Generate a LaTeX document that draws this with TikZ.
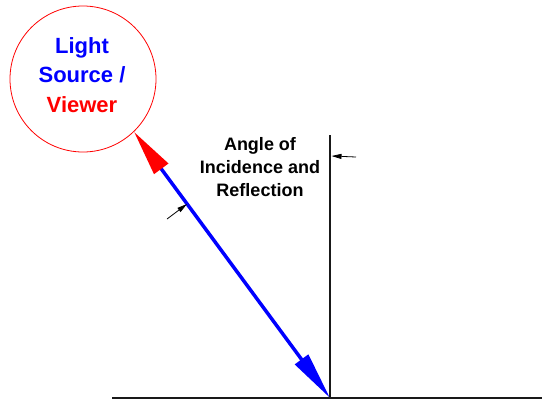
\documentclass[tikz,border=0pt]{standalone}
\usepackage{fontspec}
\setmainfont{Liberation Sans}
\usetikzlibrary{arrows.meta,positioning}
\definecolor{rayblue}{RGB}{0,0,255}
\definecolor{viewred}{RGB}{255,0,0}

\begin{document}
\begin{tikzpicture}[x=1pt,y=-1pt,>=Latex,
 sourcetext/.style={font=\bfseries\fontsize{22}{29.5}\selectfont,align=center,inner sep=0pt},
 angletext/.style={font=\bfseries\fontsize{18}{23}\selectfont,align=center,inner sep=0pt},
 surface/.style={line width=2.6pt,black!90},
 ray/.style={line width=3.5pt,rayblue,
  {Triangle[length=46pt,width=17pt,color=viewred]}-{Triangle[length=48pt,width=16pt]}},
 dimarrow/.style={line width=.8pt,-{Triangle[length=10pt,width=5pt]}}]
 \useasboundingbox (0,0) rectangle (542,400);
 \node[circle,draw=viewred,line width=.8pt,minimum size=146pt,inner sep=0pt] (src) at (83,79) {};
 \node[sourcetext] (srctext) at (82,75) {\textcolor{rayblue}{Light}\\\textcolor{rayblue}{Source /}\\\textcolor{viewred}{Viewer}};
 \node[angletext] (angle) at (260,167) {Angle of\\Incidence and\\Reflection};
 \coordinate (foot) at (330,398);
 \coordinate (normtop) at (330,135);
 \coordinate (floorl) at (112,398);
 \coordinate (floorr) at (542,398);
 \coordinate (tickr) at (356,157);
 \coordinate (tickrend) at (331.5,156);
 \coordinate (tickl) at (167,219);
 \coordinate (ticklend) at (187,204);
 \draw[surface] (floorl) -- (floorr);
 \draw[surface] (normtop) -- (foot);
 \draw[ray] (src.-46) -- (foot);
 \foreach \a/\b in {tickr/tickrend,tickl/ticklend}
   \draw[dimarrow] (\a) -- (\b);
\end{tikzpicture}
\end{document}
